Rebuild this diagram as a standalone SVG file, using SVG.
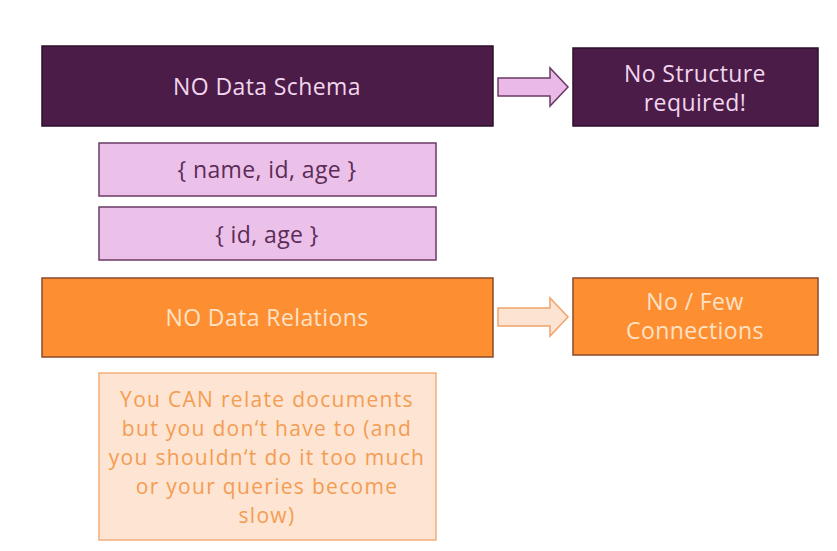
<svg xmlns="http://www.w3.org/2000/svg" width="837" height="551" viewBox="0 0 837 551">
<style>
text{font-family:"Open Sans","Liberation Sans",sans-serif;text-anchor:middle;dominant-baseline:central;font-size:23px;letter-spacing:0.4px}
.dark{fill:#4a1c47;stroke:#2e0f2c;stroke-width:1.5}
.dt{fill:#f2d6ef}
.pink{fill:#ecc1e9;stroke:#6a3a66;stroke-width:1.5}
.pt{fill:#5b2c57}
.org{fill:#fd8e32;stroke:#8a4a2a;stroke-width:1.5}
.ot{fill:#fde2c6}
.lt{fill:#fee4d2;stroke:#f3ae78;stroke-width:1.5}
text.ltt{fill:#f39d52;font-size:21px;letter-spacing:1.3px}
.a1{fill:#ebb9e8;stroke:#6a3a66;stroke-width:1.5}
.a2{fill:#fde4d2;stroke:#f0a46c;stroke-width:1.5}
</style>
<rect width="837" height="551" fill="#ffffff"/>
<g id="connectors">
<path class="a1" d="M498,78 H550 V68 L568,87 L550,106 V96 H498 Z"/>
<path class="a2" d="M498,308 H550 V298 L568,317 L550,336 V326 H498 Z"/>
</g>
<g id="no-data-schema">
<rect class="dark" x="42" y="46" width="451" height="80"/>
<text class="dt" x="267" y="86">NO Data Schema</text>
</g>
<g id="no-structure">
<rect class="dark" x="573" y="48" width="245" height="78"/>
<text class="dt" x="695" y="73">No Structure</text>
<text class="dt" x="695" y="102">required!</text>
</g>
<g id="doc1">
<rect class="pink" x="99" y="143" width="337" height="53"/>
<text class="pt" x="267" y="169">{ name, id, age }</text>
</g>
<g id="doc2">
<rect class="pink" x="99" y="207" width="337" height="53"/>
<text class="pt" x="267" y="234">{ id, age }</text>
</g>
<g id="no-data-relations">
<rect class="org" x="42" y="278" width="451" height="79"/>
<text class="ot" x="267" y="317">NO Data Relations</text>
</g>
<g id="few-connections">
<rect class="org" x="573" y="278" width="245" height="77"/>
<text class="ot" x="695" y="301">No / Few</text>
<text class="ot" x="695" y="330">Connections</text>
</g>
<g id="relate-note">
<rect class="lt" x="99" y="373" width="337" height="167"/>
<text class="ltt" x="267" y="399">You CAN relate documents</text>
<text class="ltt" x="267" y="428">but you don‘t have to (and</text>
<text class="ltt" x="267" y="457">you shouldn‘t do it too much</text>
<text class="ltt" x="267" y="486">or your queries become</text>
<text class="ltt" x="267" y="515">slow)</text>
</g>
</svg>
